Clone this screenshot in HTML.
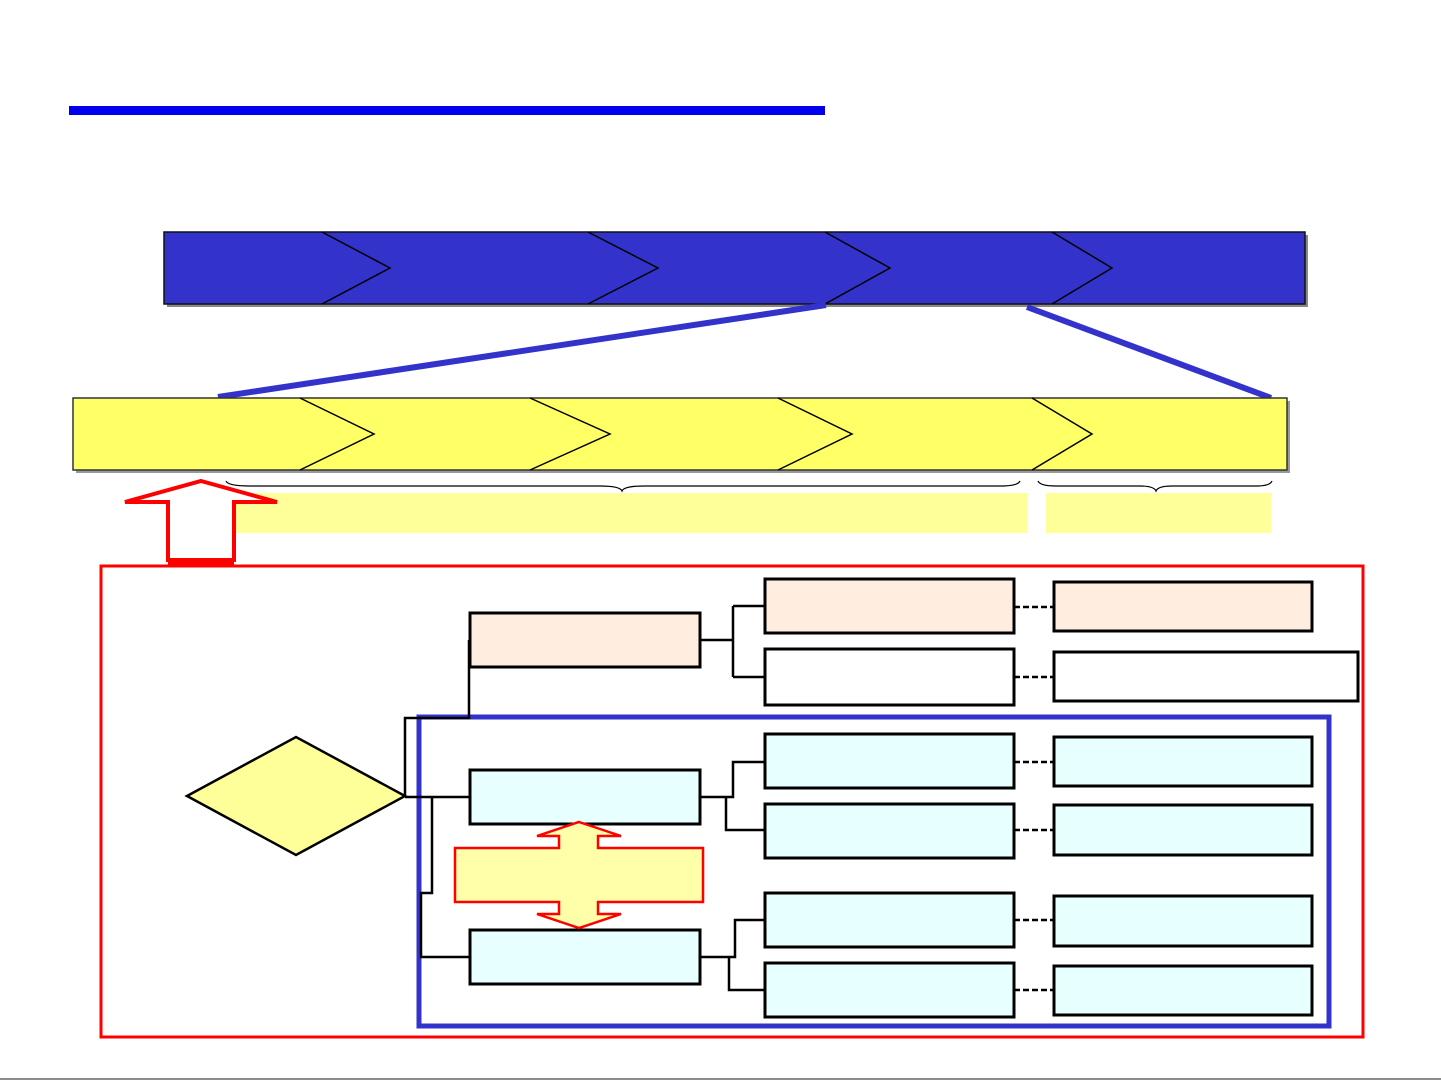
<!DOCTYPE html>
<html><head><meta charset="utf-8"><style>html,body{margin:0;padding:0;background:#fff;}svg{display:block}</style></head>
<body>
<svg width="1441" height="1081" viewBox="0 0 1441 1081" xmlns="http://www.w3.org/2000/svg">
<rect x="69" y="106" width="756" height="9" fill="#0000ee"/>
<rect x="167" y="235" width="1141" height="72" fill="#888"/>
<rect x="164" y="232" width="1141" height="72" fill="#3333cc" stroke="#111" stroke-width="1.5"/>
<g fill="none" stroke="#000" stroke-width="1.5">
<polyline points="322,232 390,268 322,304"/>
<polyline points="588,232 658,268 588,304"/>
<polyline points="825,232 890,268 825,304"/>
<polyline points="1052,232 1112,268 1052,304"/>
</g>
<line x1="218" y1="397" x2="826" y2="305" stroke="#3333cc" stroke-width="6"/>
<line x1="1027" y1="307" x2="1271" y2="398" stroke="#3333cc" stroke-width="6"/>
<rect x="76" y="401" width="1214" height="72" fill="#999"/>
<rect x="73" y="398" width="1214" height="72" fill="#ffff66" stroke="#333" stroke-width="1.5"/>
<g fill="none" stroke="#000" stroke-width="1.5">
<polyline points="300,398 374,434 300,470"/>
<polyline points="530,398 610,434 530,470"/>
<polyline points="778,398 852,434 778,470"/>
<polyline points="1032,398 1092,434 1032,470"/>
</g>
<g fill="none" stroke="#000" stroke-width="1.2">
<path d="M226,481 Q228,486 250,486 L600,486 Q620,486 622,491 Q624,486 644,486 L1000,486 Q1018,486 1020,481"/>
<path d="M1038,481 Q1040,486 1056,486 L1140,486 Q1154,486 1156,491 Q1158,486 1172,486 L1256,486 Q1270,486 1272,481"/>
</g>
<rect x="219" y="493" width="808" height="40" fill="#ffff99"/>
<rect x="1046" y="493" width="225" height="40" fill="#ffff99"/>
<polygon points="201,481 277,502 234,502 234,560 168,560 168,502 125,502" fill="#fff" stroke="#f00" stroke-width="4"/>
<line x1="168" y1="564" x2="234" y2="564" stroke="#f00" stroke-width="4"/>
<rect x="101" y="566" width="1262" height="471" fill="none" stroke="#f00" stroke-width="3"/>
<rect x="419" y="717" width="910" height="309" fill="none" stroke="#3333cc" stroke-width="5"/>
<polygon points="187,796 296,737 405,796 296,855" fill="#ffff99" stroke="#000" stroke-width="2.5"/>
<g fill="none" stroke="#000" stroke-width="2.5">
<path d="M405,797 V718 H469 V640"/>
<path d="M405,797 H470"/>
<path d="M432,797 V893 H421 V957 H470"/>
<path d="M700,640 H733 M733,606 V677 M733,606 H765 M733,677 H765"/>
<path d="M700,797 H733 V762 H765 M726,797 V830 H765"/>
<path d="M700,957 H735 V920 H765 M729,957 V990 H765"/>
<path d="M1014,607 H1054 M1014,677 H1054 M1014,762 H1054 M1014,830 H1054 M1014,920 H1054 M1014,990 H1054" stroke-dasharray="6,3"/>
</g>
<g stroke="#000" stroke-width="3">
<rect x="470" y="613" width="230" height="54" fill="#ffeedf"/>
<rect x="765" y="579" width="249" height="54" fill="#ffeedf"/>
<rect x="765" y="649" width="249" height="56" fill="#fff"/>
<rect x="1054" y="582" width="258" height="49" fill="#ffeedf"/>
<rect x="1054" y="652" width="304" height="49" fill="#fff"/>
<rect x="470" y="770" width="230" height="54" fill="#e8ffff"/>
<rect x="470" y="930" width="230" height="54" fill="#e8ffff"/>
<rect x="765" y="734" width="249" height="54" fill="#e8ffff"/>
<rect x="765" y="804" width="249" height="54" fill="#e8ffff"/>
<rect x="765" y="893" width="249" height="54" fill="#e8ffff"/>
<rect x="765" y="963" width="249" height="54" fill="#e8ffff"/>
<rect x="1054" y="737" width="258" height="49" fill="#e8ffff"/>
<rect x="1054" y="805" width="258" height="50" fill="#e8ffff"/>
<rect x="1054" y="896" width="258" height="50" fill="#e8ffff"/>
<rect x="1054" y="966" width="258" height="49" fill="#e8ffff"/>
</g>
<polygon points="579,822 621,836 598,836 598,848 703,848 703,902 598,902 598,914 621,914 579,928 537,914 559,914 559,902 455,902 455,848 559,848 559,836 537,836" fill="#ffffaa" stroke="#f00" stroke-width="2.5"/>
<line x1="0" y1="1079" x2="1441" y2="1079" stroke="#666" stroke-width="1.5"/>
</svg>
</body></html>
